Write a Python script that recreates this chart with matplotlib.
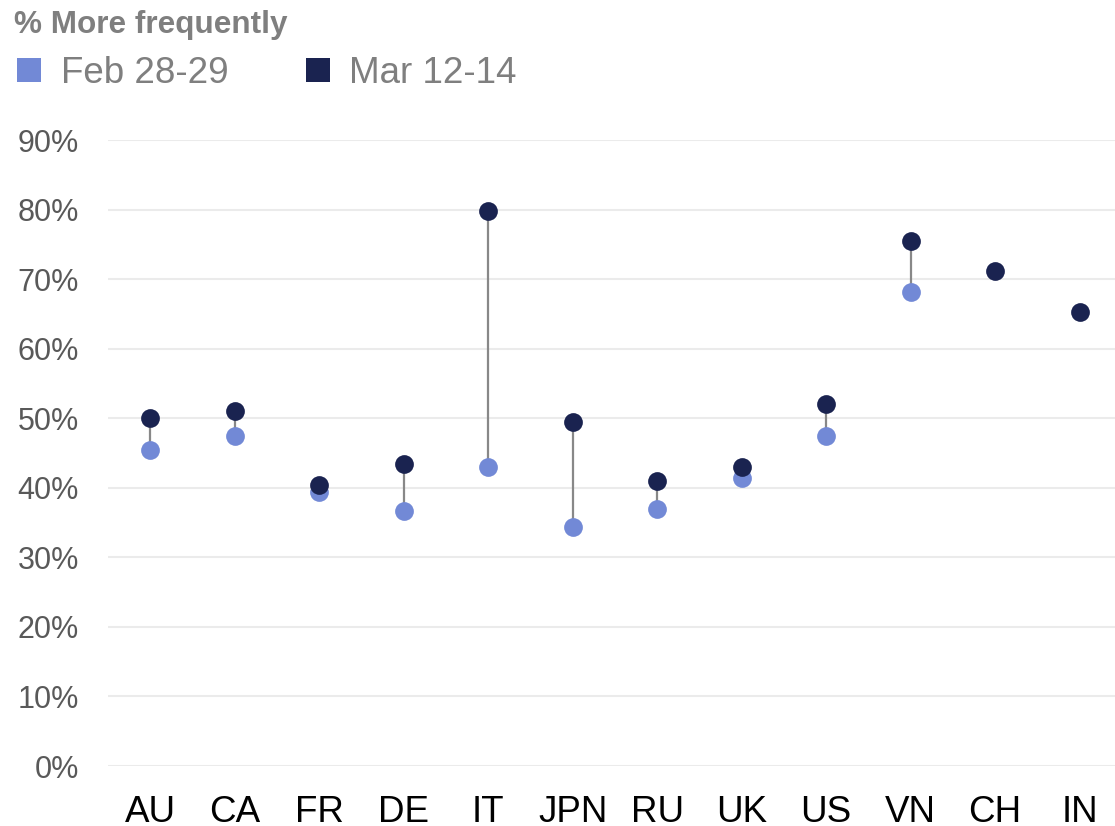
import matplotlib
matplotlib.use("Agg")
import matplotlib.pyplot as plt
from matplotlib.patches import Rectangle

countries = ["AU", "CA", "FR", "DE", "IT", "JPN", "RU", "UK", "US", "VN", "CH", "IN"]
feb_28_29 = [45.4, 47.4, 39.4, 36.7, 43.0, 34.4, 36.9, 41.4, 47.4, 68.1, None, None]
mar_12_14 = [50.0, 51.0, 40.4, 43.4, 79.8, 49.5, 41.0, 43.0, 52.0, 75.5, 71.2, 65.3]
y_ticks = [0, 10, 20, 30, 40, 50, 60, 70, 80, 90]
series_names = ["Feb 28-29", "Mar 12-14"]

LIGHT = "#7289D6"
DARK = "#1A2350"
W, H = 1115, 826

plt.rcParams['font.family'] = ['Liberation Sans', 'DejaVu Sans']

fig = plt.figure(figsize=(W / 100, H / 100), dpi=100)
ax = fig.add_axes([108 / W, (H - 766) / H, (W - 108) / W, (766 - 140) / H])

x = list(range(len(countries)))
for i in x:
    f, m = feb_28_29[i], mar_12_14[i]
    if f is not None and m is not None:
        ax.plot([i, i], [f, m], color="#888888", lw=1.6, zorder=2, solid_capstyle='butt')

fx = [i for i in x if feb_28_29[i] is not None]
fy = [feb_28_29[i] for i in fx]
ax.plot(fx, fy, 'o', color=LIGHT, markersize=13.5, markeredgewidth=0, zorder=3, clip_on=False)
ax.plot(x, mar_12_14, 'o', color=DARK, markersize=13.5, markeredgewidth=0, zorder=4, clip_on=False)

ax.set_ylim(0, 90)
ax.set_xlim(-0.5, 11.42)
ax.set_yticks(y_ticks)
ax.set_yticklabels([f"{v}%" for v in y_ticks], fontsize=22, color="#595959")
ax.set_xticks(x)
ax.set_xticklabels(countries, fontsize=26.5, color="black")
ax.tick_params(axis='y', length=0, pad=21)
ax.tick_params(axis='x', length=0, pad=21)
ax.grid(axis='y', color="#EBEBEB", lw=1.5, zorder=0)
ax.set_axisbelow(True)
for s in ax.spines.values():
    s.set_visible(False)

def fx_(px):
    return px / W

def fy_(py):
    return 1 - py / H

fig.text(fx_(14), fy_(33), "% More frequently", fontsize=22.7, fontweight='bold',
         color="#7F7F7F", va='baseline', ha='left')

fig.add_artist(Rectangle((fx_(17), fy_(82)), 24 / W, 24 / H, transform=fig.transFigure,
                         facecolor=LIGHT, edgecolor='none'))
fig.text(fx_(61), fy_(83), series_names[0], fontsize=26.5, color="#7F7F7F", va='baseline', ha='left')
fig.add_artist(Rectangle((fx_(306), fy_(82)), 24 / W, 24 / H, transform=fig.transFigure,
                         facecolor=DARK, edgecolor='none'))
fig.text(fx_(349), fy_(83), series_names[1], fontsize=26.5, color="#7F7F7F", va='baseline', ha='left')

fig.savefig("out.png", dpi=100)
